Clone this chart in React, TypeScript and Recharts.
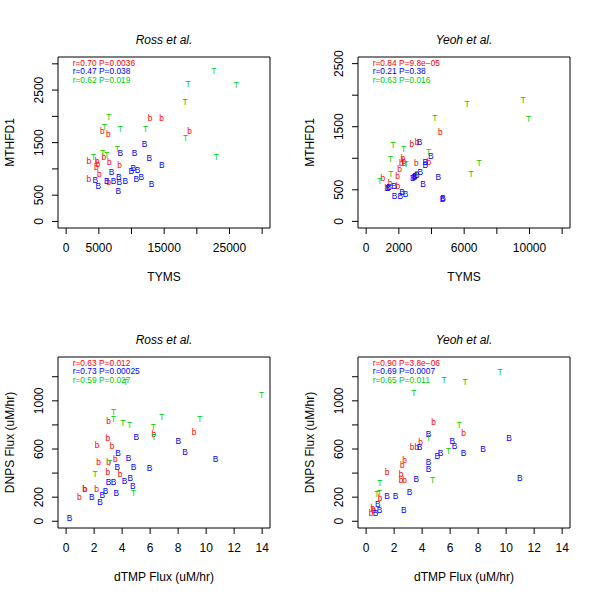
import React from "react";
import { ReferenceArea, Scatter, ScatterChart, XAxis, YAxis } from "recharts";

const FONT = '"Liberation Sans", Arial, Helvetica, sans-serif';
const RED = "#ff0000";
const BLUE = "#0000ff";
const GREEN = "#00cd00";

type Pt = [number, number];

// Ross et al. — TYMS vs MTHFD1
const rossExpr_b: Pt[] = [
  [12830, 1974], [14620, 1974], [5520, 1720], [6440, 1657], [3470, 1147],
  [4750, 1147], [4850, 1089], [4600, 1038], [6590, 1127], [8170, 1070],
  [5060, 911], [3470, 808], [6530, 751], [18900, 1726], [5770, 1236],
];
const rossExpr_B: Pt[] = [
  [12010, 1465], [8280, 1306], [10480, 1306], [12730, 1210], [14620, 1083],
  [6950, 943], [10270, 1019], [9970, 962], [10940, 988], [10740, 816],
  [11500, 847], [8070, 847], [9050, 764], [8120, 751], [7250, 764],
  [6230, 770], [4450, 783], [4910, 682], [7980, 573], [13080, 720],
];
const rossExpr_T: Pt[] = [
  [22600, 2866], [18650, 2611], [26060, 2599], [18190, 2268], [18290, 1592],
  [23000, 1217], [6540, 1993], [5870, 1790], [8280, 1752], [12160, 1752],
  [7820, 1382], [5610, 1305], [6230, 1261], [4190, 1217],
];

// Yeoh et al. — TYMS vs MTHFD1
const yeohExpr_b: Pt[] = [
  [4540, 1422], [2800, 1226], [3110, 1253], [2250, 998], [2150, 929],
  [2330, 918], [3070, 918], [3840, 934], [2040, 823], [1920, 722],
  [1020, 695], [1470, 610], [1940, 563], [1270, 531], [2300, 960],
];
const yeohExpr_B: Pt[] = [
  [3270, 1253], [3620, 934], [3620, 891], [3950, 1035], [3310, 775],
  [3000, 722], [2860, 690], [2950, 705], [3480, 600], [4420, 706],
  [4680, 350], [4700, 372], [1700, 557], [1330, 531], [2190, 467],
  [2410, 440], [1740, 403], [2090, 398], [3100, 735], [1400, 540],
];
const yeohExpr_T: Pt[] = [
  [9610, 1916], [9940, 1629], [6180, 1868], [4210, 1640], [6910, 918],
  [6420, 748], [3820, 1093], [1640, 1205], [2290, 1146], [1490, 987],
  [1510, 743], [840, 642], [2450, 908], [3110, 748],
];

// Ross et al. — dTMP flux vs DNPS flux
const rossFlux_b: Pt[] = [
  [3.03, 836], [6.27, 722], [2.98, 689], [2.22, 633], [3.29, 625],
  [3.51, 517], [2.31, 489], [2.98, 411], [3.86, 392], [1.31, 264],
  [1.36, 268], [2.17, 264], [0.95, 203], [9.13, 739], [3.03, 489],
];
const rossFlux_B: Pt[] = [
  [5.01, 703], [3.7, 564], [4.46, 528], [3.65, 453], [4.82, 453],
  [5.96, 439], [4.58, 361], [4.17, 336], [3.03, 328], [3.39, 322],
  [4.77, 294], [2.81, 250], [2.58, 222], [3.58, 236], [1.84, 203],
  [2.43, 161], [0.24, 28], [8.01, 669], [8.49, 572], [10.68, 517],
];
const rossFlux_T: Pt[] = [
  [3.39, 911], [3.39, 847], [4.05, 819], [4.53, 800], [6.84, 869],
  [6.22, 781], [6.27, 697], [3.1, 486], [2.07, 389], [4.82, 231],
  [9.54, 847], [13.95, 1050], [4.25, 1153],
];

// Yeoh et al. — dTMP flux vs DNPS flux
const yeohFlux_b: Pt[] = [
  [4.82, 828], [6.96, 731], [3.29, 614], [3.63, 614], [3.89, 661],
  [2.74, 508], [2.58, 467], [1.5, 406], [2.5, 389], [2.5, 342],
  [2.74, 342], [1.0, 189], [0.48, 106], [0.36, 69], [0.55, 90],
];
const yeohFlux_B: Pt[] = [
  [4.46, 722], [3.82, 614], [6.15, 667], [6.32, 628], [5.32, 564],
  [5.08, 544], [6.96, 564], [4.46, 494], [4.46, 431], [3.58, 350],
  [3.1, 244], [2.1, 211], [1.5, 211], [0.83, 142], [0.95, 92],
  [0.67, 69], [2.69, 92], [8.35, 600], [10.21, 694], [10.97, 356],
];
const yeohFlux_T: Pt[] = [
  [9.56, 1236], [5.56, 1169], [7.06, 1156], [3.41, 1069], [6.63, 803],
  [4.46, 689], [5.89, 583], [4.75, 339], [0.98, 319], [0.76, 225],
  [0.95, 231],
];

const tymsRossTicks = [0, 5000, 10000, 15000, 20000, 25000, 30000];
const tymsRossLabels = [0, 5000, 15000, 25000];
const tymsYeohTicks = [0, 2000, 4000, 6000, 8000, 10000, 12000];
const tymsYeohLabels = [0, 2000, 6000, 10000];
const mthfdRossTicks = [0, 500, 1000, 1500, 2000, 2500, 3000];
const mthfdYeohTicks = [0, 500, 1000, 1500, 2000, 2500];
const mthfdLabels = [0, 500, 1500, 2500];
const fluxXTicks = [0, 2, 4, 6, 8, 10, 12, 14];
const fluxYTicks = [0, 200, 400, 600, 800, 1000, 1200];
const fluxYLabels = [0, 200, 600, 1000];

const statsRossExpr = ["r=0.70 P=0.0036", "r=0.47 P=0.038", "r=0.62 P=0.019"];
const statsYeohExpr = ["r=0.84 P=9.8e\u221205", "r=0.21 P=0.38", "r=0.63 P=0.016"];
const statsRossFlux = ["r=0.63 P=0.012", "r=0.73 P=0.00025", "r=0.59 P=0.027"];
const statsYeohFlux = ["r=0.90 P=3.8e\u221206", "r=0.69 P=0.0007", "r=0.65 P=0.011"];

const COLORS = [RED, BLUE, GREEN];
const LETTERS = ["b", "B", "T"];

type PanelProps = {
  title: string;
  xLabel: string;
  yLabel: string;
  xDomain: [number, number];
  yDomain: [number, number];
  xTicks: number[];
  xShown: number[];
  yTicks: number[];
  yShown: number[];
  series: Pt[][];
  stats: string[];
};

const letterShape = (letter: string, color: string) => (props: any) => (
  <text
    x={props.cx}
    y={props.cy}
    textAnchor="middle"
    dominantBaseline="central"
    fontFamily={FONT}
    fontSize={8.4}
    fill={color}
  >
    {letter}
  </text>
);

const Panel = (props: PanelProps) => {
  const { title, xLabel, yLabel, xDomain, yDomain, xTicks, xShown, yTicks, yShown, series, stats } = props;

  const xTick = (p: any) =>
    xShown.includes(p.payload.value) ? (
      <text x={p.x} y={p.y + 18} textAnchor="middle" fontFamily={FONT} fontSize={12} fill="#000">
        {p.payload.value}
      </text>
    ) : (
      <g />
    );

  const yTick = (p: any) =>
    yShown.includes(p.payload.value) ? (
      <text
        x={p.x - 9}
        y={p.y}
        transform={`rotate(-90 ${p.x - 9} ${p.y})`}
        textAnchor="middle"
        fontFamily={FONT}
        fontSize={12}
        fill="#000"
      >
        {p.payload.value}
      </text>
    ) : (
      <g />
    );

  return (
    <div style={{ position: "relative", width: 300, height: 300 }}>
      <ScatterChart width={300} height={300} margin={{ top: 57, right: 30, left: 0, bottom: 0 }}>
        <XAxis
          type="number"
          dataKey="x"
          domain={xDomain}
          ticks={xTicks}
          allowDataOverflow
          interval={0}
          height={72}
          tickSize={6}
          tickMargin={0}
          axisLine={false}
          tickLine={{ stroke: "#000" }}
          tick={xTick}
        />
        <YAxis
          type="number"
          dataKey="y"
          domain={yDomain}
          ticks={yTicks}
          allowDataOverflow
          interval={0}
          width={58}
          tickSize={6}
          tickMargin={0}
          axisLine={false}
          tickLine={{ stroke: "#000" }}
          tick={yTick}
        />
        <ReferenceArea
          x1={xDomain[0]}
          x2={xDomain[1]}
          y1={yDomain[0]}
          y2={yDomain[1]}
          fill="none"
          fillOpacity={0}
          stroke="#000"
          strokeWidth={1}
          strokeOpacity={1}
        />
        {series.map((pts, i) => (
          <Scatter
            key={LETTERS[i]}
            data={pts.map(([x, y]) => ({ x, y }))}
            shape={letterShape(LETTERS[i], COLORS[i])}
            isAnimationActive={false}
          />
        ))}
      </ScatterChart>
      <svg width={300} height={300} style={{ position: "absolute", left: 0, top: 0, pointerEvents: "none" }}>
        <text x={164} y={44} textAnchor="middle" fontFamily={FONT} fontSize={12} fontStyle="italic" fill="#000">
          {title}
        </text>
        <text x={164} y={281} textAnchor="middle" fontFamily={FONT} fontSize={12} fill="#000">
          {xLabel}
        </text>
        <text
          x={14}
          y={142.5}
          transform="rotate(-90 14 142.5)"
          textAnchor="middle"
          fontFamily={FONT}
          fontSize={12}
          fill="#000"
        >
          {yLabel}
        </text>
        {stats.map((s, i) => (
          <text key={s} x={72.7} y={66.3 + i * 8.1} fontFamily={FONT} fontSize={8.4} fill={COLORS[i]}>
            {s}
          </text>
        ))}
      </svg>
    </div>
  );
};

export default function App() {
  return (
    <div
      style={{
        position: "absolute",
        left: 0,
        top: 0,
        width: 600,
        height: 600,
        background: "#fff",
        display: "grid",
        gridTemplateColumns: "300px 300px",
        gridTemplateRows: "300px 300px",
      }}
    >
      <Panel
        title="Ross et al."
        xLabel="TYMS"
        yLabel="MTHFD1"
        xDomain={[-1250, 31200]}
        yDomain={[-125, 3130]}
        xTicks={tymsRossTicks}
        xShown={tymsRossLabels}
        yTicks={mthfdRossTicks}
        yShown={mthfdLabels}
        series={[rossExpr_b, rossExpr_B, rossExpr_T]}
        stats={statsRossExpr}
      />
      <Panel
        title="Yeoh et al."
        xLabel="TYMS"
        yLabel="MTHFD1"
        xDomain={[-500, 12480]}
        yDomain={[-105, 2605]}
        xTicks={tymsYeohTicks}
        xShown={tymsYeohLabels}
        yTicks={mthfdYeohTicks}
        yShown={mthfdLabels}
        series={[yeohExpr_b, yeohExpr_B, yeohExpr_T]}
        stats={statsYeohExpr}
      />
      <Panel
        title="Ross et al."
        xLabel="dTMP Flux (uM/hr)"
        yLabel="DNPS Flux (uM/hr)"
        xDomain={[-0.58, 14.56]}
        yDomain={[-56, 1364]}
        xTicks={fluxXTicks}
        xShown={fluxXTicks}
        yTicks={fluxYTicks}
        yShown={fluxYLabels}
        series={[rossFlux_b, rossFlux_B, rossFlux_T]}
        stats={statsRossFlux}
      />
      <Panel
        title="Yeoh et al."
        xLabel="dTMP Flux (uM/hr)"
        yLabel="DNPS Flux (uM/hr)"
        xDomain={[-0.58, 14.56]}
        yDomain={[-56, 1364]}
        xTicks={fluxXTicks}
        xShown={fluxXTicks}
        yTicks={fluxYTicks}
        yShown={fluxYLabels}
        series={[yeohFlux_b, yeohFlux_B, yeohFlux_T]}
        stats={statsYeohFlux}
      />
    </div>
  );
}
